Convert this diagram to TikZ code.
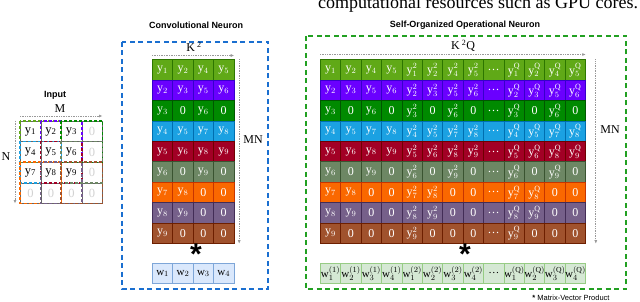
\documentclass[tikz,border=0pt]{standalone}
\usepackage{fontspec}
\setmainfont{Liberation Serif}
\setsansfont{Liberation Sans}
\usepackage{tikz}
\usetikzlibrary{positioning,arrows.meta}
\definecolor{RowFill1}{HTML}{60A917}\definecolor{RowLine1}{HTML}{2D7600}
\definecolor{RowFill2}{HTML}{6A00FF}\definecolor{RowLine2}{HTML}{3700CC}
\definecolor{RowFill3}{HTML}{008A00}\definecolor{RowLine3}{HTML}{005700}
\definecolor{RowFill4}{HTML}{1BA1E2}\definecolor{RowLine4}{HTML}{006EAF}
\definecolor{RowFill5}{HTML}{A20025}\definecolor{RowLine5}{HTML}{6F0000}
\definecolor{RowFill6}{HTML}{6D8764}\definecolor{RowLine6}{HTML}{3A5431}
\definecolor{RowFill7}{HTML}{FA6800}\definecolor{RowLine7}{HTML}{C73500}
\definecolor{RowFill8}{HTML}{76608A}\definecolor{RowLine8}{HTML}{432D57}
\definecolor{RowFill9}{HTML}{A0522D}\definecolor{RowLine9}{HTML}{6D1F00}
\definecolor{ConvBlue}{HTML}{1A6FD0}
\definecolor{SoonGreen}{HTML}{22A022}
\definecolor{WBlueFill}{HTML}{DAE8FC}\definecolor{WBlueLine}{HTML}{7EA6D8}
\definecolor{WGreenFill}{HTML}{D5E8D4}\definecolor{WGreenLine}{HTML}{97CC85}
\tikzset{
  mcell/.style={rectangle, fill=RowFill#1, draw=RowLine#1, line width=0.6pt,
    minimum width=20.4pt, minimum height=20.4pt, inner sep=0pt, anchor=north west,
    text=white, font=\fontsize{12}{13}\selectfont},
  incell/.style={rectangle, draw=gray!80!black, fill=white, line width=0.5pt,
    minimum width=20.5pt, minimum height=20.5pt, inner sep=0pt, anchor=north west,
    font=\fontsize{12.5}{13}\selectfont},
  wcell/.style={rectangle, fill=WBlueFill, draw=WBlueLine, line width=0.8pt,
    minimum width=20.4pt, minimum height=20pt, inner sep=0pt, anchor=north west,
    font=\fontsize{11}{12}\selectfont},
  gcell/.style={wcell, fill=WGreenFill, draw=WGreenLine},
  win/.style={line width=1.2pt, dash pattern=on 3pt off 2pt},
  nbox/.style={line width=1.3pt, dash pattern=on 5pt off 3.5pt},
  dimarrow/.style={densely dotted, draw=gray!80, line width=0.7pt,
    -{Latex[length=3.5pt,width=3pt]}},
  ttl/.style={font=\sffamily\bfseries\fontsize{9}{10}\selectfont},
  lbl/.style={font=\fontsize{12}{13}\selectfont},
  ast/.style={font=\sffamily\bfseries\fontsize{30}{30}\selectfont, inner sep=0pt}
}
\begin{document}
\begin{tikzpicture}[x=1pt, y=-1pt]
  \useasboundingbox (0,0) rectangle (640,302);
  \node[anchor=base west, inner sep=0pt, font=\fontsize{18}{18}\selectfont] (cut) at (318,9)
    {computational resources such as GPU cores.};
  % input
  \node[ttl] (intitle) at (55,95) {Input};
  \foreach \r in {1,...,4}
    \foreach \c in {1,...,4}{
      \pgfmathtruncatemacro\k{3*(\r-1)+\c}
      \ifnum\r<4 \ifnum\c<4
        \node[incell] (in-\r-\c) at ({20+(\c-1)*20.5},{121+(\r-1)*20.5}) {y\textsubscript{\k}};
      \else
        \node[incell, text=gray!35] (in-\r-\c) at ({20+(\c-1)*20.5},{121+(\r-1)*20.5}) {0};
      \fi\else
        \node[incell, text=gray!35] (in-\r-\c) at ({20+(\c-1)*20.5},{121+(\r-1)*20.5}) {0};
      \fi
    }
  \foreach \k/\ra/\ca/\rb/\cb in {1/1/1/2/2, 2/1/2/2/3, 3/1/3/2/4, 4/2/1/3/2, 5/2/2/3/3,
      6/2/3/3/4, 7/3/1/4/2, 8/3/2/4/3, 9/3/3/4/4}
    \draw[win, draw=RowFill\k] (in-\ra-\ca.north west) rectangle (in-\rb-\cb.south east);
  \draw[dimarrow] ([yshift=5pt]in-1-1.north west) -- ([yshift=5pt]in-1-4.north east);
  \draw[dimarrow] ([xshift=-5pt]in-1-1.north west) -- ([xshift=-5pt]in-4-1.south west);
  \node[lbl] (m) at (60,109) {M};
  \node[lbl] (n) at (6,157) {N};
  % convolutional neuron
  \node[ttl] (convtitle) at (196,25) {Convolutional Neuron};
  \draw[nbox, draw=ConvBlue] (122,42) rectangle (268,289);
  \foreach \r/\a/\b/\c/\d in {1/1/2/4/5, 2/2/3/5/6, 3/3/0/6/0, 4/4/5/7/8, 5/5/6/8/9,
      6/6/0/9/0, 7/7/8/0/0, 8/8/9/0/0, 9/9/0/0/0}
    \foreach \v [count=\j] in {\a,\b,\c,\d}
      \node[mcell=\r] (cv-\r-\j) at ({152+(\j-1)*20.4},{59.5+(\r-1)*20.4})
        {\ifnum\v=0 0\else$\mathrm{y}_{\v}$\fi};
  \draw[dimarrow] ([yshift=4pt]cv-1-1.north west) -- ([yshift=4pt]cv-1-4.north east);
  \draw[dimarrow] ([xshift=5pt]cv-1-4.north east) -- ([xshift=5pt]cv-9-4.south east);
  \node[lbl] (k2) at (194,47) {K\,\textsuperscript{2}};
  \node[lbl] (mn1) at (253,140) {MN};
  \node[ast] (ast1) at (196,254) {*};
  \foreach \j in {1,...,4}
    \node[wcell] (w-\j) at ({152+(\j-1)*20.4},263) {$\mathrm{w}_{\j}$};
  % self-organized operational neuron
  \node[ttl] (soontitle) at (465,25) {Self-Organized Operational Neuron};
  \draw[nbox, draw=SoonGreen] (306,36) rectangle (626,289);
  \foreach \r/\a/\b/\c/\d in {1/1/2/4/5, 2/2/3/5/6, 3/3/0/6/0, 4/4/5/7/8, 5/5/6/8/9,
      6/6/0/9/0, 7/7/8/0/0, 8/8/9/0/0, 9/9/0/0/0}{
    \foreach \v [count=\j] in {\a,\b,\c,\d}{
      \pgfmathtruncatemacro\jb{\j+4}
      \pgfmathtruncatemacro\jq{\j+9}
      \node[mcell=\r] (so-\r-\j) at ({320+(\j-1)*20.4},{59.5+(\r-1)*20.4})
        {\ifnum\v=0 0\else$\mathrm{y}_{\v}$\fi};
      \node[mcell=\r] (so-\r-\jb) at ({320+(\j+3)*20.4},{59.5+(\r-1)*20.4})
        {\ifnum\v=0 0\else$\mathrm{y}_{\v}^{2}$\fi};
      \node[mcell=\r] (so-\r-\jq) at ({320+(\j+8)*20.4},{59.5+(\r-1)*20.4})
        {\ifnum\v=0 0\else$\mathrm{y}_{\v}^{\mathrm{Q}}$\fi};
    }
    \node[mcell=\r] (so-\r-9) at ({320+8*20.4},{59.5+(\r-1)*20.4}) {\dots};
  }
  \draw[dimarrow] ([yshift=5pt]so-1-1.north west) -- ([yshift=5pt]so-1-13.north east);
  \draw[dimarrow] ([xshift=10pt]so-1-13.north east) -- ([xshift=10pt]so-9-13.south east);
  \node[lbl] (k2q) at (463,46) {K\,\textsuperscript{2}Q};
  \node[lbl] (mn2) at (610,130) {MN};
  \node[ast] (ast2) at (465,254) {*};
  \foreach \j in {1,...,4}{
    \pgfmathtruncatemacro\jb{\j+4}
    \pgfmathtruncatemacro\jq{\j+9}
    \node[gcell] (gw-\j) at ({320+(\j-1)*20.4},263) {$\mathrm{w}_{\j}^{(1)}$};
    \node[gcell] (gw-\jb) at ({320+(\j+3)*20.4},263) {$\mathrm{w}_{\j}^{(2)}$};
    \node[gcell] (gw-\jq) at ({320+(\j+8)*20.4},263) {$\mathrm{w}_{\j}^{(\mathrm{Q})}$};
  }
  \node[gcell] (gw-9) at ({320+8*20.4},263) {\dots};
  \node[font=\sffamily\fontsize{7.5}{8}\selectfont] (legend) at (571,298)
    {\textbf{*} Matrix-Vector Product};
\end{tikzpicture}
\end{document}
